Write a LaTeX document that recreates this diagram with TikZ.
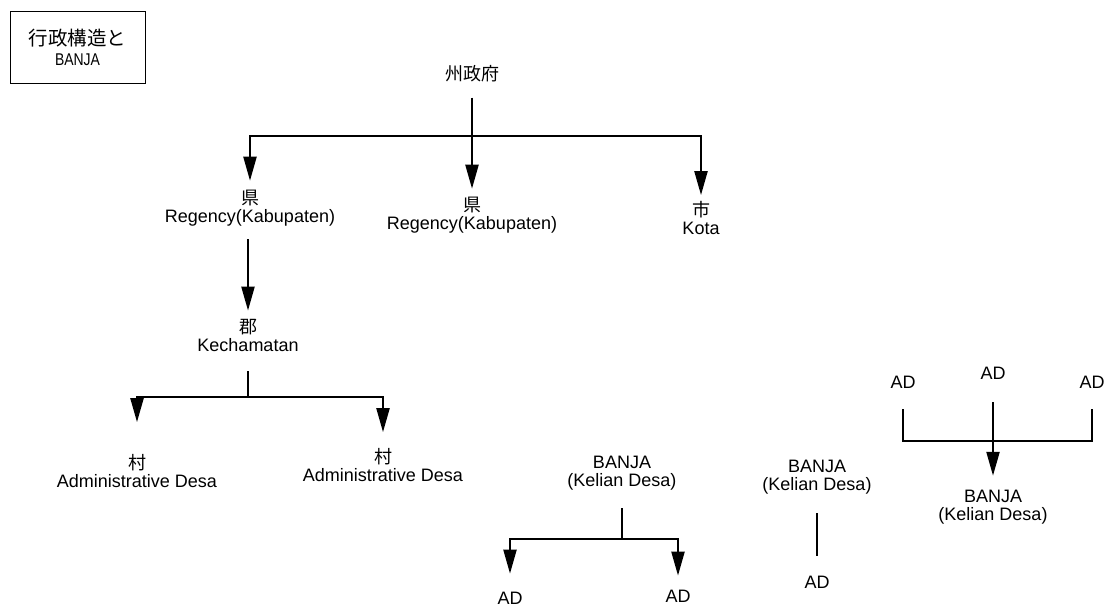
\documentclass[tikz,border=0pt]{standalone}
\usepackage{fontspec}
\setmainfont{Liberation Sans}
\newfontfamily\cjk{Noto Sans CJK JP}
\newfontfamily\narrowsans[FakeStretch=0.82]{Liberation Sans}
\usetikzlibrary{arrows.meta}

\begin{document}
\begin{tikzpicture}[x=1pt, y=-1pt,
    txt/.style={align=center, inner sep=0pt, font=\fontsize{18}{18}\selectfont},
    titlebox/.style={draw, line width=1pt, minimum width=135pt, minimum height=71pt, inner sep=0pt, align=center, font=\fontsize{19.5}{19.5}\selectfont},
    link/.style={line width=2.2pt},
    arrow/.style={link, -{Triangle[length=24pt, width=13pt]}}
]
\useasboundingbox (0,0) rectangle (1105,610);

% title box
\node[titlebox] (title) at (77.5,47.5) {{\cjk 行政構造と}\\{\narrowsans\fontsize{17}{18}\selectfont BANJA}};

% state and regencies
\node[txt] (state) at (472,74) {\cjk 州政府};
\node[txt] (reg1) at (250,208) {{\cjk 県}\\Regency(Kabupaten)};
\node[txt] (reg2) at (472,215) {{\cjk 県}\\Regency(Kabupaten)};
\node[txt] (city) at (701,218) {{\cjk 市}\\Kota};
\coordinate (bar1) at (472,136);

\draw[arrow, shorten <=15pt, shorten >=8pt] (state) -- (reg2);
\draw[arrow, shorten >=9pt] (bar1) -| (reg1);
\draw[arrow, shorten >=6pt] (bar1) -| (city);

% district and villages
\node[txt] (dist) at (248,335) {{\cjk 郡}\\Kechamatan};
\node[txt] (vill1) at (137,471) {{\cjk 村}\\Administrative Desa};
\node[txt] (vill2) at (383,465) {{\cjk 村}\\Administrative Desa};
\coordinate (bar2) at (248,397);

\draw[arrow, shorten <=13pt, shorten >=8pt] (reg1.south -| dist) -- (dist);
\draw[link, shorten <=20pt] (dist) -- (bar2);
\draw[arrow, shorten >=32pt] (bar2) -| (vill1);
\draw[arrow, shorten >=16pt] (bar2) -| (vill2);

% banja with two AD
\node[txt] (banja1) at (622,473) {BANJA\\(Kelian Desa)};
\node[txt] (ad1) at (510,598) {AD};
\node[txt] (ad2) at (678,596) {AD};
\coordinate (bar3) at (622,539);

\draw[link, shorten <=18pt] (banja1) -- (bar3);
\draw[arrow, shorten >=18pt] (bar3) -| (ad1);
\draw[arrow, shorten >=14pt] (bar3) -| (ad2);

% banja with one AD
\node[txt] (banja2) at (817,477) {BANJA\\(Kelian Desa)};
\node[txt] (ad3) at (817,582) {AD};

\draw[link, shorten <=19pt, shorten >=20pt] (banja2) -- (ad3);

% three AD into banja
\node[txt] (ad4) at (903,382) {AD};
\node[txt] (ad5) at (993,373) {AD};
\node[txt] (ad6) at (1092,382) {AD};
\node[txt] (banja3) at (993,507) {BANJA\\(Kelian Desa)};
\coordinate (bar4) at (993,441);

\draw[link, shorten <=21pt, shorten >=21pt] (ad4) |- (bar4) -| (ad6);
\draw[arrow, shorten <=23pt, shorten >=14pt] (ad5) -- (banja3);

\end{tikzpicture}
\end{document}
